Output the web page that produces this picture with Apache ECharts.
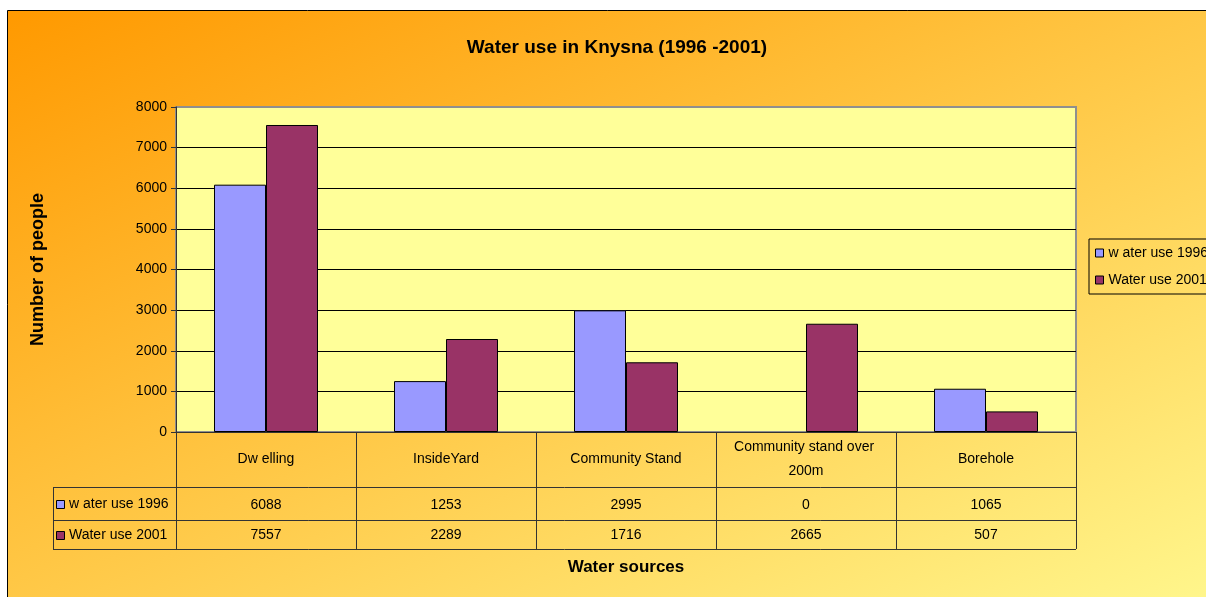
<!DOCTYPE html>
<html>
<head>
<meta charset="utf-8">
<script src="https://cdn.jsdelivr.net/npm/echarts@6/dist/echarts.min.js"></script>
<style>
html,body{margin:0;padding:0;background:#fff;}
#c{width:1206px;height:597px;}
</style>
</head>
<body>
<div id="c"></div>
<script>
var titleText = 'Water use in Knysna (1996 -2001)';
var categories = ['Dw elling', 'InsideYard', 'Community Stand', 'Community stand over 200m', 'Borehole'];
var seriesNames = ['w ater use 1996', 'Water use 2001'];
var values1996 = [6088, 1253, 2995, 0, 1065];
var values2001 = [7557, 2289, 1716, 2665, 507];
var yTicks = [0, 1000, 2000, 3000, 4000, 5000, 6000, 7000, 8000];
var yName = 'Number of people';
var xName = 'Water sources';
var colors = ['#9999FF', '#993366'];

var FONT = '"Liberation Sans", Arial, sans-serif';
var G = {left: 176, top: 107, width: 900, height: 325};
var gBottom = G.top + G.height;
var row1 = {top: 487, bottom: 520};
var row2 = {top: 520, bottom: 549};
var tableLeft = 53;
var lineColor = '#333333';

function barData(vals) {
  return vals.map(function (v) {
    return v === 0 ? {value: v, itemStyle: {borderWidth: 0}} : v;
  });
}

var chart = echarts.init(document.getElementById('c'), null, {renderer: 'canvas'});

var option = {
  animation: false,
  backgroundColor: '#ffffff',
  title: {
    text: titleText,
    left: 612, top: 33, textAlign: 'center',
    textStyle: {fontFamily: FONT, fontSize: 19, fontWeight: 'bold', color: '#000'}
  },
  legend: {
    orient: 'vertical',
    left: 1089, top: 239,
    padding: [7, 40, 7, 6],
    itemGap: 13,
    itemWidth: 8, itemHeight: 8,
    icon: 'rect',
    borderColor: '#000', borderWidth: 1,
    textStyle: {fontFamily: FONT, fontSize: 14, color: '#000'},
    itemStyle: {borderColor: '#000', borderWidth: 1},
    data: seriesNames
  },
  grid: {
    left: G.left, top: G.top, width: G.width, height: G.height,
    show: true, backgroundColor: '#FFFF99', borderColor: '#8f8f8f', borderWidth: 2
  },
  xAxis: {
    type: 'category',
    data: categories,
    axisLine: {lineStyle: {color: lineColor, width: 1}},
    axisTick: {show: false},
    axisLabel: {show: false}
  },
  yAxis: {
    type: 'value',
    min: yTicks[0], max: yTicks[yTicks.length - 1], interval: yTicks[1] - yTicks[0],
    name: yName, nameLocation: 'middle', nameGap: 129, nameRotate: 90,
    nameTextStyle: {fontFamily: FONT, fontSize: 18, fontWeight: 'bold', color: '#000'},
    axisLine: {show: true, lineStyle: {color: lineColor, width: 1}},
    axisTick: {show: true, inside: false, length: 5, lineStyle: {color: lineColor}},
    axisLabel: {fontFamily: FONT, fontSize: 14, color: '#000', margin: 9,
      formatter: function (v) { return String(v); }},
    splitLine: {show: true, showMinLine: false, showMaxLine: false, lineStyle: {color: '#000', width: 1}}
  },
  series: [
    {name: seriesNames[0], type: 'bar', data: barData(values1996), barWidth: 52, barGap: '0%',
     itemStyle: {color: colors[0], borderColor: '#000', borderWidth: 1}},
    {name: seriesNames[1], type: 'bar', data: barData(values2001), barWidth: 52, barGap: '0%',
     itemStyle: {color: colors[1], borderColor: '#000', borderWidth: 1}}
  ]
};
chart.setOption(option);

var els = [];
els.push({
  type: 'rect', z: -100, silent: true,
  shape: {x: 7.5, y: 10.5, width: 1230, height: 620},
  style: {
    fill: new echarts.graphic.LinearGradient(7, 10, 501, 1048, [
      {offset: 0, color: '#FF9900'},
      {offset: 1, color: '#FFFF99'}
    ], true),
    stroke: '#000', lineWidth: 1
  }
});

var colW = G.width / categories.length;
function hline(x1, x2, y) {
  els.push({type: 'line', silent: true, z: 10, shape: {x1: x1, y1: y, x2: x2, y2: y}, style: {stroke: lineColor, lineWidth: 1}});
}
function vline(x, y1, y2) {
  els.push({type: 'line', silent: true, z: 10, shape: {x1: x, y1: y1, x2: x, y2: y2}, style: {stroke: lineColor, lineWidth: 1}});
}
function txt(x, y, s, opts) {
  els.push({type: 'text', silent: true, z: 11, x: x, y: y,
    style: Object.assign({text: s, fill: '#000', font: '14px ' + FONT, align: 'center', verticalAlign: 'middle'}, opts || {})});
}
var gRight = G.left + G.width;
hline(tableLeft, gRight, row1.top + 0.5);
hline(tableLeft, gRight, row2.top + 0.5);
hline(tableLeft, gRight, row2.bottom + 0.5);
vline(tableLeft + 0.5, row1.top, row2.bottom);
for (var i = 0; i <= categories.length; i++) {
  vline(Math.round(G.left + i * colW) + 0.5, gBottom, row2.bottom);
}
categories.forEach(function (c, i) {
  var cx = chart.convertToPixel({xAxisIndex: 0}, c);
  els.push({type: 'text', silent: true, z: 11, x: cx, y: 459,
    style: {text: c, fill: '#000', font: '14px ' + FONT, align: 'center', verticalAlign: 'middle',
      width: colW - 16, overflow: 'break', lineHeight: 24}});
  txt(cx, (row1.top + row1.bottom) / 2 + 1.5, String(values1996[i]));
  txt(cx, (row2.top + row2.bottom) / 2 + 0.5, String(values2001[i]));
});
[row1, row2].forEach(function (r, k) {
  var cy = (r.top + r.bottom) / 2 + 1;
  els.push({type: 'rect', silent: true, z: 11, shape: {x: 56.5, y: Math.round(cy) - 4.5, width: 8, height: 8},
    style: {fill: colors[k], stroke: '#000', lineWidth: 1}});
  txt(69, cy, seriesNames[k], {align: 'left'});
});
txt(G.left + G.width / 2, 567, xName, {font: 'bold 17px ' + FONT});

chart.setOption({graphic: {elements: els}});
</script>
</body>
</html>
